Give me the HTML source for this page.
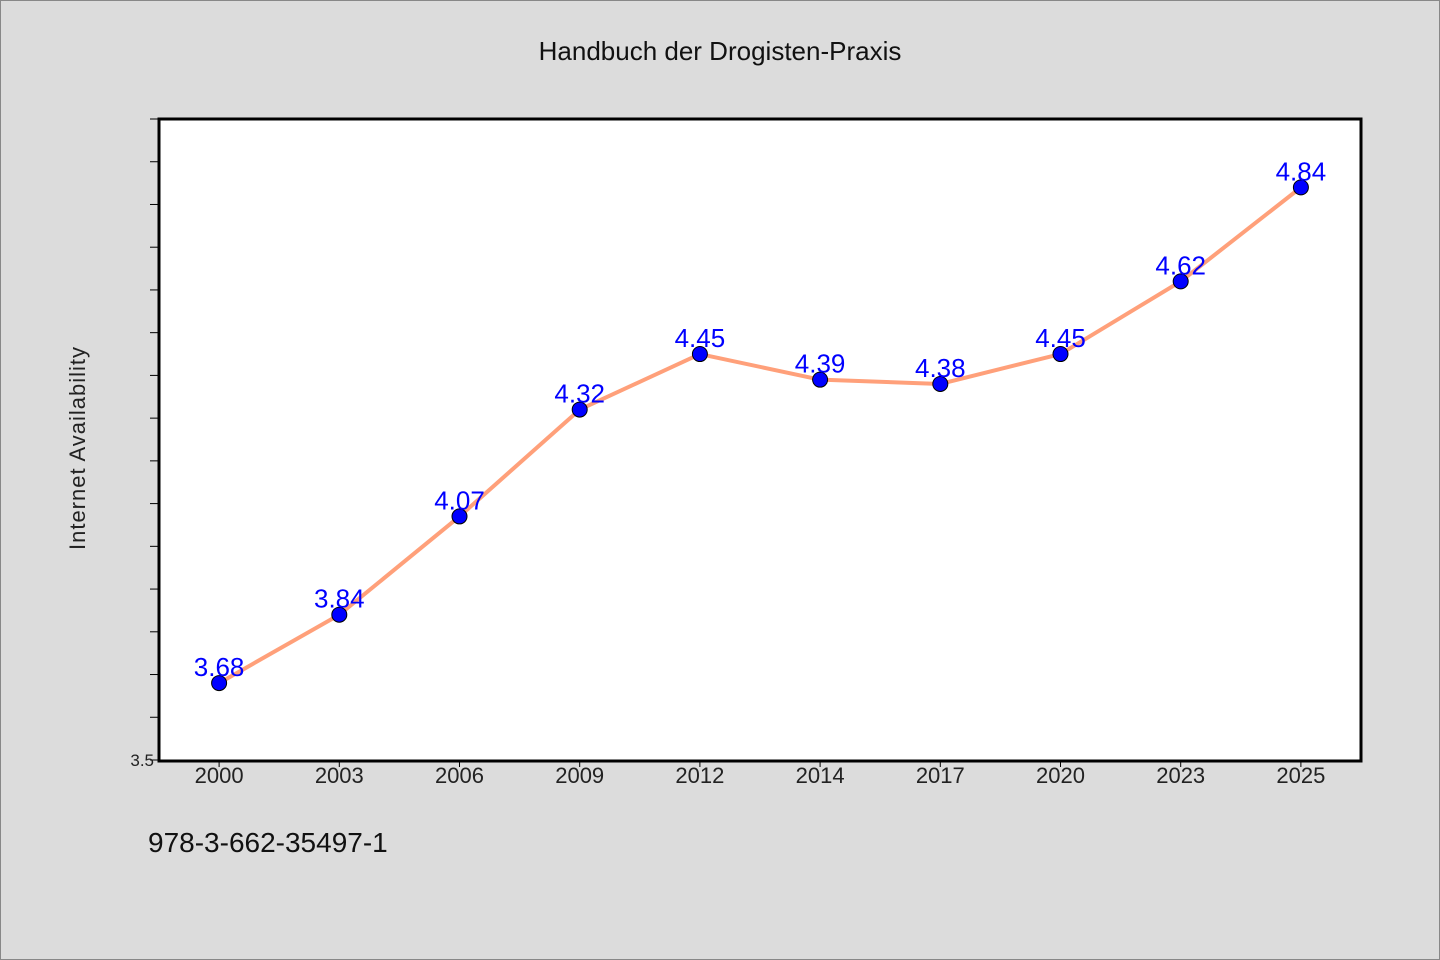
<!DOCTYPE html>
<html><head><meta charset="utf-8"><style>
body{margin:0;background:#dcdcdc;}
svg{display:block}
text{font-family:"WenQuanYi Zen Hei","Liberation Sans",sans-serif;}
</style></head><body>
<svg width="1440" height="960" xmlns="http://www.w3.org/2000/svg">
<rect x="0.5" y="0.5" width="1439" height="959" fill="#dcdcdc" stroke="#888"/>
<text x="720" y="60" text-anchor="middle" font-size="26" fill="#111">Handbuch der Drogisten-Praxis</text>
<rect x="159" y="119" width="1202" height="642" fill="#fff" stroke="#000" stroke-width="3"/>
<text transform="translate(85,448) rotate(-90)" text-anchor="middle" font-size="22" fill="#222" letter-spacing="1">Internet Availability</text>
<text x="150" y="290" font-size="0"></text>
<text x="150" y="852" font-size="28" fill="#111" x-note="" style="font-family:'Liberation Sans',sans-serif" transform="translate(0,0)"><tspan x="148">978-3-662-35497-1</tspan></text>
<g id="axes"></g>
<g id="marks"></g>
</svg>
<script>
const categories=["2000","2003","2006","2009","2012","2014","2017","2020","2023","2025"];
const values=[3.68,3.84,4.07,4.32,4.45,4.39,4.38,4.45,4.62,4.84];
const yMin=3.5,yMax=5.0;
const L=159,R=1361,T=119,B=760;
const NS="http://www.w3.org/2000/svg";
const band=(R-L)/categories.length;
const xs=i=>L+band*(i+0.5);
const ys=v=>B-(v-yMin)/(yMax-yMin)*(B-T);
function mk(tag,attrs,parent){const e=document.createElementNS(NS,tag);for(const k in attrs)e.setAttribute(k,attrs[k]);parent.appendChild(e);return e;}
const ax=document.getElementById('axes'),mg=document.getElementById('marks');
for(let k=0;k<=15;k++){const v=yMin+k*0.1;const y=ys(v);
 const t=mk('line',{x1:L-9,x2:L,y1:y,y2:y,stroke:'#000','stroke-width':1},ax);
 
 }
const yl=mk('text',{x:L-5,y:B+6,'text-anchor':'end','font-size':17,fill:'#222'},ax);yl.textContent="3.5";


categories.forEach((c,i)=>{const x=xs(i);
 const t=mk('line',{x1:x,x2:x,y1:B,y2:B+7,stroke:'#000','stroke-width':1},ax);
 
 
 const l=mk('text',{x:x,y:B+23,'text-anchor':'middle','font-size':22,fill:'#222',style:"font-family:'Liberation Sans',sans-serif"},ax);l.textContent=c;
 
 });
const pl=mk('polyline',{points:values.map((v,i)=>xs(i)+','+ys(v)).join(' '),fill:'none',stroke:'#ffa07a','stroke-width':4,'stroke-linejoin':'round'},mg);


values.forEach((v,i)=>{
 const c=mk('circle',{cx:xs(i),cy:ys(v),r:7.5,fill:'#0000ff',stroke:'#000','stroke-width':1},mg);
 
 
 const t=mk('text',{x:xs(i),y:ys(v)-7,'text-anchor':'middle','font-size':26,fill:'#0000ff'},mg);t.textContent=v.toFixed(2);
 
 });
</script>
</body></html>
